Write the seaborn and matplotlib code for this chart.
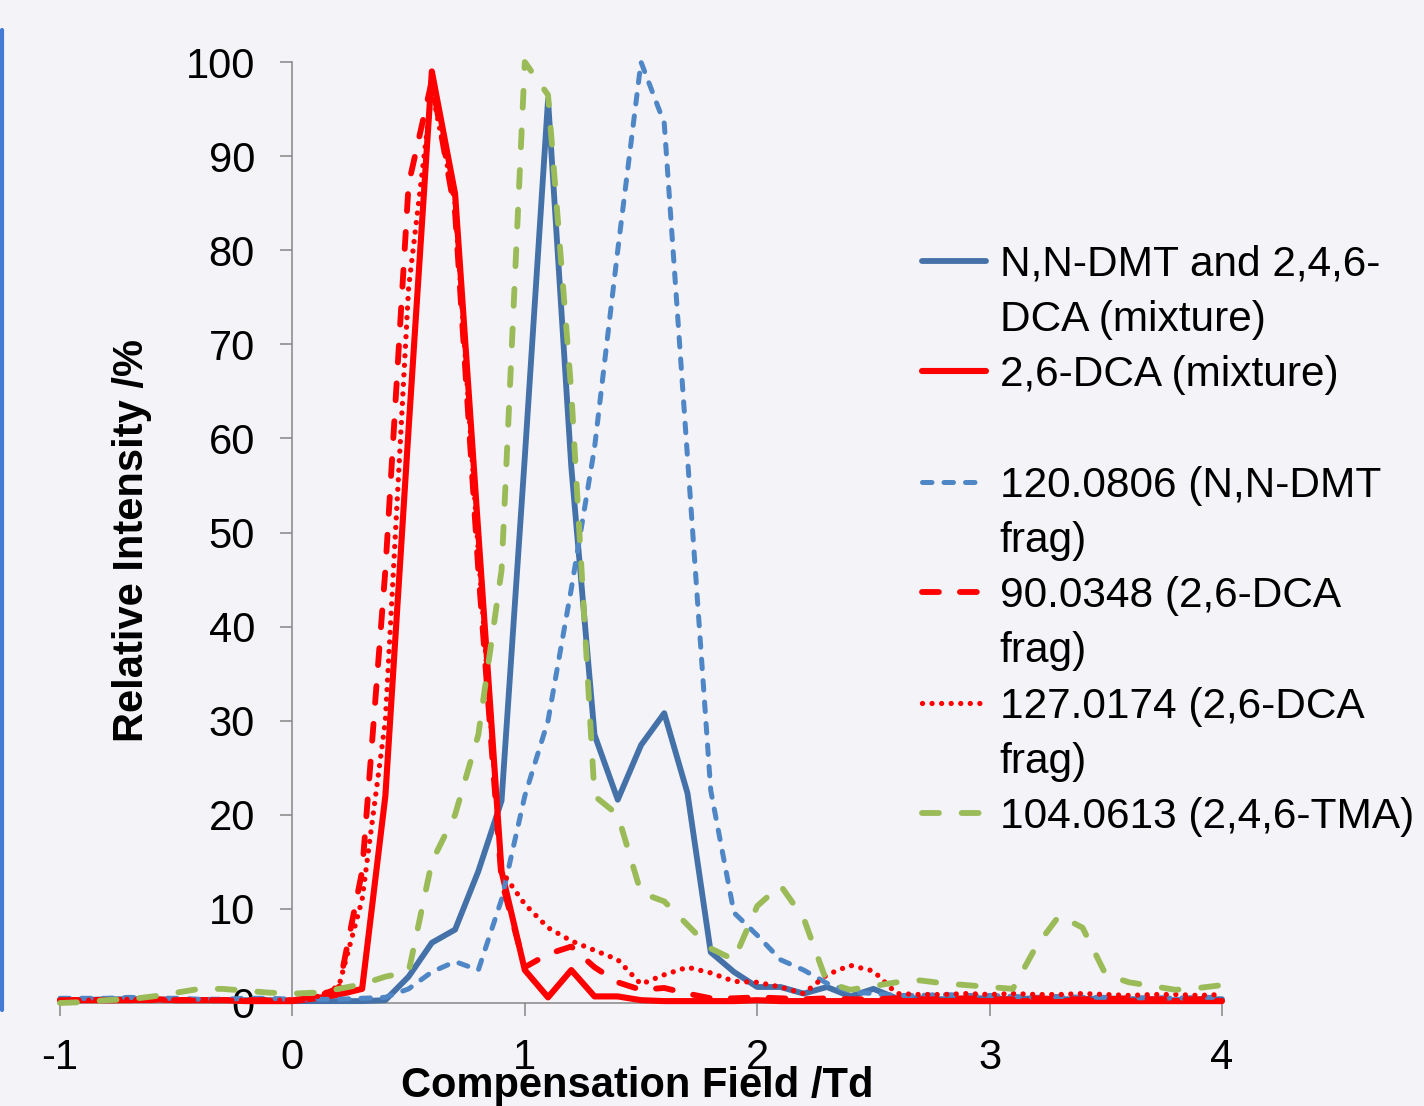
import numpy as np
import matplotlib
matplotlib.use("Agg")
import matplotlib.pyplot as plt
from matplotlib.lines import Line2D
import seaborn as sns

# compensation field grid (Td), 0.1 Td steps
field = np.round(np.arange(-1.0, 4.05, 0.1), 1)

# relative intensity (%), one value per field step
dmt_mix = [0.3, 0.3, 0.4, 0.4, 0.4, 0.3, 0.3, 0.3, 0.3, 0.3,
           0.2, 0.2, 0.2, 0.2, 0.3, 2.8, 6.4, 7.8, 14.0, 21.5,
           58.0, 96.0, 57.0, 28.5, 21.6, 27.4, 30.8, 22.3, 5.4, 3.3,
           1.7, 1.7, 1.0, 1.7, 0.7, 1.5, 0.5, 0.5, 0.4, 0.5,
           0.5, 0.4, 0.5, 0.4, 0.4, 0.5, 0.4, 0.4, 0.3, 0.4,
           0.4]
dca_mix = [0.3, 0.3, 0.3, 0.3, 0.4, 0.3, 0.3, 0.3, 0.2, 0.2,
           0.2, 0.5, 0.9, 1.5, 22.0, 61.0, 99.0, 86.0, 50.0, 14.0,
           3.5, 0.6, 3.5, 0.7, 0.7, 0.3, 0.2, 0.2, 0.2, 0.2,
           0.3, 0.2, 0.2, 0.2, 0.2, 0.2, 0.2, 0.2, 0.2, 0.2,
           0.2, 0.2, 0.2, 0.2, 0.2, 0.2, 0.2, 0.2, 0.2, 0.2,
           0.2]
dmt_frag = [0.5, 0.5, 0.5, 0.6, 0.5, 0.5, 0.4, 0.4, 0.5, 0.5,
            0.4, 0.4, 0.4, 0.5, 0.6, 1.5, 3.3, 4.4, 3.5, 11.0,
            22.0, 30.0, 44.0, 59.0, 80.0, 100.0, 93.5, 58.0, 22.6, 9.6,
            7.2, 4.6, 3.5, 2.1, 1.2, 1.0, 0.8, 0.8, 0.9, 0.8,
            0.8, 0.7, 0.6, 0.7, 0.6, 0.6, 0.5, 0.6, 0.5, 0.6,
            0.6]
dca_frag90 = [0.3, 0.3, 0.3, 0.3, 0.3, 0.3, 0.3, 0.3, 0.3, 0.3,
              0.3, 0.6, 1.6, 14.0, 46.0, 87.0, 98.0, 84.0, 46.0, 13.0,
              3.8, 5.2, 6.0, 3.8, 2.2, 1.4, 1.6, 1.0, 0.5, 0.5,
              0.6, 0.5, 0.4, 0.5, 0.4, 0.4, 0.5, 0.4, 0.4, 0.5,
              0.4, 0.4, 0.5, 0.4, 0.4, 0.4, 0.5, 0.4, 0.4, 0.4,
              0.4]
dca_frag127 = [0.3, 0.3, 0.3, 0.4, 0.3, 0.3, 0.3, 0.3, 0.3, 0.3,
               0.3, 0.6, 1.8, 11.0, 30.0, 76.0, 97.0, 85.0, 48.0, 14.0,
               10.5, 8.0, 6.6, 5.6, 4.6, 2.0, 3.0, 3.8, 3.2, 2.3,
               2.2, 1.7, 1.0, 3.0, 4.0, 3.4, 1.0, 0.9, 0.9, 1.0,
               0.9, 1.0, 0.9, 0.9, 1.0, 0.9, 0.8, 0.9, 0.9, 0.8,
               0.9]
tma_frag = [0.0, 0.1, 0.3, 0.4, 0.7, 1.1, 1.5, 1.5, 1.3, 1.1,
            1.0, 1.1, 1.5, 2.0, 2.8, 3.3, 15.0, 20.0, 28.5, 46.0,
            100.0, 96.5, 65.0, 22.0, 20.0, 11.7, 10.8, 8.3, 5.8, 4.6,
            10.3, 12.5, 9.0, 2.2, 1.4, 1.8, 2.2, 2.4, 2.1, 1.9,
            1.7, 1.5, 6.0, 9.3, 8.0, 3.0, 2.2, 1.8, 1.4, 1.6,
            1.9]

x_ticks = [-1, 0, 1, 2, 3, 4]
y_ticks = [0, 10, 20, 30, 40, 50, 60, 70, 80, 90, 100]

sns.set_theme(style="ticks")
plt.rcParams['font.family'] = ['Liberation Sans', 'DejaVu Sans']
plt.rcParams['axes.unicode_minus'] = False
plt.rcParams['text.color'] = 'black'
plt.rcParams['axes.labelcolor'] = 'black'

bg = '#f3f3f8'
fig = plt.figure(figsize=(14.24, 11.06), dpi=100, facecolor=bg)
ax = fig.add_axes([60 / 1424, 103 / 1106, 1162 / 1424, 941 / 1106])
ax.set_facecolor(bg)

# (values, colour, linestyle, width)
series = [
    (dmt_mix, '#4571a9', '-', 4.2),
    (dca_mix, '#ff0000', '-', 4.4),
    (dmt_frag, '#4f86c6', (0, (1.9, 2.4)), 3.6),
    (dca_frag90, '#ff0000', (0, (2.9, 3.6)), 4.2),
    (dca_frag127, '#ff0000', (0, (0.01, 1.8)), 3.8),
    (tma_frag, '#9bbb59', (0, (2.9, 3.9)), 4.2),
]
for vals, col, ls, lw in series:
    sns.lineplot(x=field, y=vals, ax=ax, color=col, linestyle=ls, linewidth=lw,
                 errorbar=None, dash_capstyle='round', solid_capstyle='round',
                 solid_joinstyle='round', clip_on=False, zorder=3)

ax.set_xlim(-1, 4)
ax.set_ylim(0, 100)
ax.set_xticks(x_ticks)
ax.set_yticks(y_ticks)
ax.spines['left'].set_position(('data', 0))
ax.spines['top'].set_visible(False)
ax.spines['right'].set_visible(False)
for s in ['left', 'bottom']:
    ax.spines[s].set_color('#868686')
    ax.spines[s].set_linewidth(1.1)
ax.tick_params(axis='both', labelsize=30, length=9, width=1.1,
               color='#868686', direction='out', labelcolor='black')
ax.tick_params(axis='y', pad=18)
ax.tick_params(axis='x', pad=16)

ax.set_xlabel('Compensation Field /Td', fontsize=30, fontweight='bold', color='black')
ax.xaxis.set_label_coords(0.497, -0.067)
ax.set_ylabel('Relative Intensity /%', fontsize=30, fontweight='bold', color='black')
ax.yaxis.set_label_coords(0.079, 0.492)

lines = ax.get_lines()
blank = Line2D([], [], color='none')
handles = [lines[0], blank, lines[1], blank, lines[2], blank,
           lines[3], blank, lines[4], blank, lines[5]]
labels = ['N,N-DMT and 2,4,6-', 'DCA (mixture)', '2,6-DCA (mixture)', ' ',
          '120.0806 (N,N-DMT', 'frag)', '90.0348 (2,6-DCA', 'frag)',
          '127.0174 (2,6-DCA', 'frag)', '104.0613 (2,4,6-TMA)']
leg = ax.legend(handles, labels, loc='upper left', bbox_to_anchor=(0.742, 0.806),
                frameon=False, fontsize=30.5, handlelength=1.5, handletextpad=0.33,
                labelspacing=0.36, borderaxespad=0, borderpad=0)
for t in leg.get_texts():
    t.set_color('black')

# blue edge line on the left of the slide
fig.add_artist(Line2D([1.5 / 1424, 1.5 / 1424], [1 - 30 / 1106, 1 - 1010 / 1106],
                      color='#4479d4', lw=3, transform=fig.transFigure))

fig.savefig('out.png', dpi=100, facecolor=bg)
